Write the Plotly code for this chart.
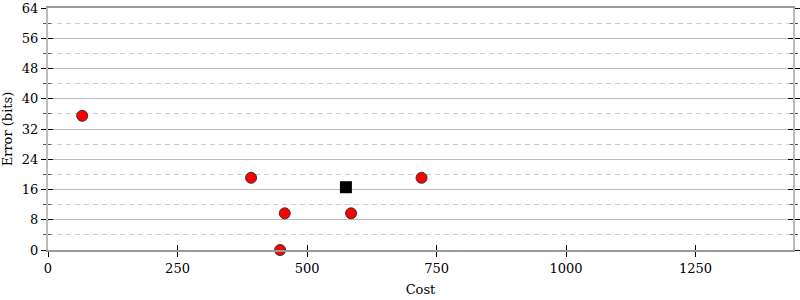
import plotly.graph_objects as go

cost = [66, 392, 457, 448, 585, 721]
error_bits = [35.5, 19.1, 9.7, 0.0, 9.7, 19.1]
ref_cost = [575]
ref_error = [16.6]
x_ticks = [0, 250, 500, 750, 1000, 1250]
y_ticks = [0, 8, 16, 24, 32, 40, 48, 56, 64]

XR = [0, 1438]
YR = [0, 64]
font = dict(family="DejaVu Serif", size=13, color="black")

fig = go.Figure()
fig.add_trace(go.Scatter(x=cost, y=error_bits, mode="markers",
                         marker=dict(color="#ff0000", size=11, line=dict(color="#333333", width=1)),
                         showlegend=False, cliponaxis=False))
fig.add_trace(go.Scatter(x=ref_cost, y=ref_error, mode="markers",
                         marker=dict(color="black", symbol="square", size=12),
                         showlegend=False, cliponaxis=False))
fig.add_trace(go.Scatter(x=[None], y=[None], xaxis="x2", yaxis="y2", showlegend=False))

fig.update_layout(
    width=800, height=300,
    margin=dict(l=48, r=7, t=8, b=50),
    plot_bgcolor="white", paper_bgcolor="white",
    font=font,
    xaxis=dict(range=XR, tickvals=x_ticks, ticks="outside", ticklen=5, tickcolor="black",
               showline=True, linecolor="#999999", linewidth=2, mirror=True,
               showgrid=False, zeroline=False, automargin=False,
               title=dict(text="Cost", font=font, standoff=10)),
    yaxis=dict(range=YR, tickvals=y_ticks, ticks="outside", ticklen=5, tickcolor="black",
               showline=True, linecolor="#bbbbbb", linewidth=2, mirror="ticks",
               showgrid=True, gridcolor="#bbbbbb", gridwidth=1, zeroline=False, automargin=False,
               minor=dict(dtick=4, tick0=0, ticks="outside", ticklen=3, tickcolor="#555555",
                          showgrid=True, gridcolor="#cccccc", griddash="5px,4px", gridwidth=1),
               title=dict(text="Error (bits)", font=font, standoff=6)),
    xaxis2=dict(range=XR, tickvals=x_ticks, ticks="inside", ticklen=5, tickcolor="black",
                overlaying="x", side="bottom", showticklabels=False, showgrid=False,
                zeroline=False, showline=False, automargin=False),
    yaxis2=dict(range=YR, tickvals=y_ticks, ticks="inside", ticklen=5, tickcolor="black",
                overlaying="y", side="left", showticklabels=False, showgrid=False,
                zeroline=False, showline=False, mirror="ticks", automargin=False,
                minor=dict(dtick=4, tick0=0, ticks="inside", ticklen=3, tickcolor="#555555")),
)

fig.write_html("out.html")
